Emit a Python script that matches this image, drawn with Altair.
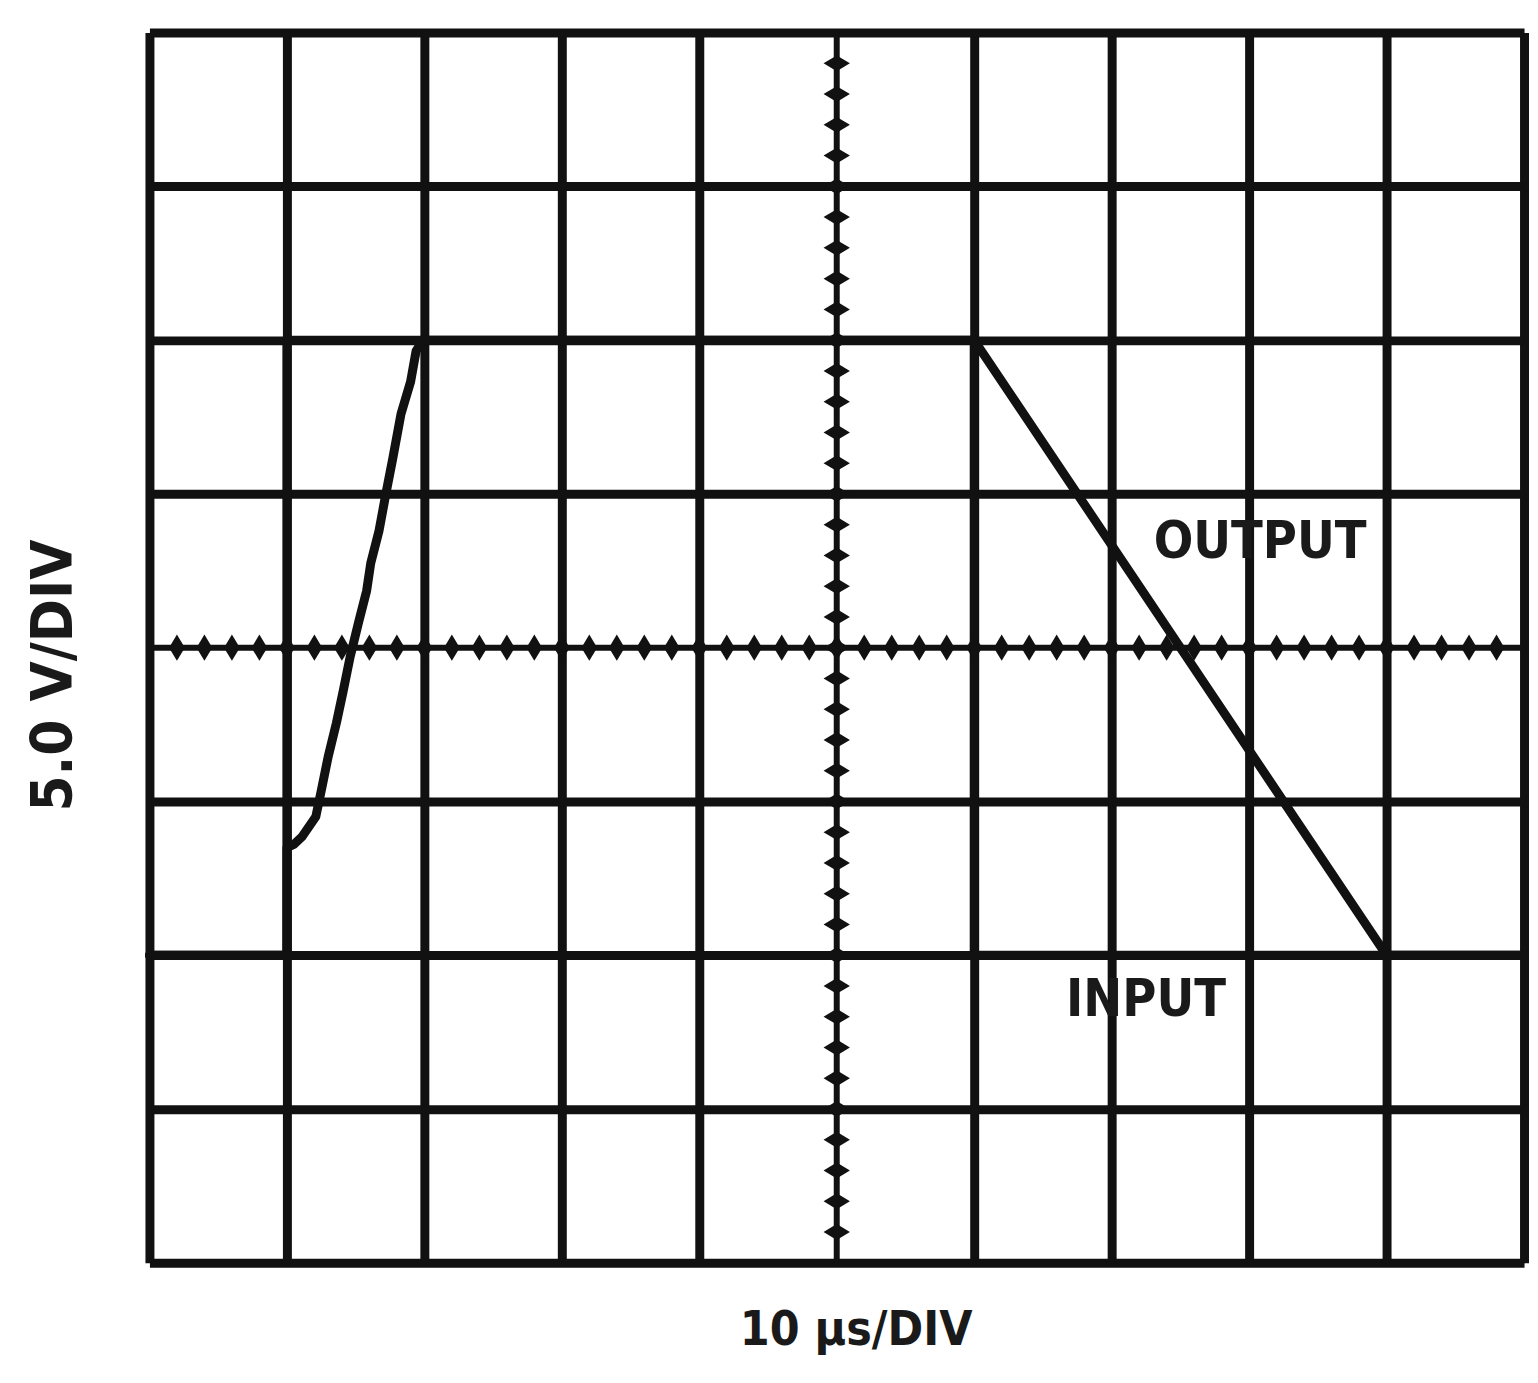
import altair as alt
import pandas as pd
import numpy as np

# Traces in divisions (x: 10 us/div, y: 5 V/div, centre = 0)
in_x = [0, 1.0, 1.0, 6.0, 6.0, 10]
in_y = [-2, -2, 2, 2, -2, -2]

out_x = [0, 1.0, 1.0, 1.05, 1.11, 1.21, 1.25, 1.30, 1.36, 1.41, 1.46, 1.52, 1.58, 1.61,
         1.67, 1.72, 1.77, 1.83, 1.90, 1.94, 1.99, 6.0, 9.0, 10]
out_y = [-2, -2, -1.30, -1.28, -1.23, -1.10, -0.93, -0.71, -0.49, -0.28, -0.06, 0.16, 0.37, 0.55,
         0.76, 1.00, 1.23, 1.52, 1.73, 1.93, 2.0, 2.0, -2, -2]

label_text = ["OUTPUT", "INPUT"]
label_x = [8.08, 7.25]
label_y = [0.69, -2.29]

x_grid = [0, 1, 2, 3, 4, 6, 7, 8, 9, 10]
y_grid = [-4, -3, -2, -1, 1, 2, 3, 4]

traces = pd.DataFrame({
    "x": in_x + out_x,
    "y": in_y + out_y,
    "trace": ["INPUT"] * len(in_x) + ["OUTPUT"] * len(out_x),
    "i": list(range(len(in_x))) + list(range(len(out_x))),
})
labels = pd.DataFrame({"text": label_text, "x": label_x, "y": label_y})

minor = np.round(np.arange(0.2, 10.0, 0.2), 2)
minor_y = np.round(np.arange(-3.8, 4.0, 0.2), 2)
hticks = pd.DataFrame({"x": minor, "y": 0.0})
vticks = pd.DataFrame({"x": 5.0, "y": minor_y})
centre = pd.DataFrame({"x": [0.0, 5.0], "x2": [10.0, 5.0], "y": [0.0, -4.0], "y2": [0.0, 4.0]})

FONT = "Liberation Sans Narrow, DejaVu Sans Condensed, Liberation Sans"

xs = alt.Scale(domain=[0, 10], nice=False, zero=False)
ys = alt.Scale(domain=[-4, 4], nice=False, zero=False)

x_axis = alt.Axis(values=x_grid, grid=True, gridColor="#111", gridWidth=9, gridOpacity=1,
                  domain=False, ticks=False, labels=False,
                  title="10 µs/DIV", titleFont=FONT, titleFontSize=48, titleFontWeight="bold",
                  titleColor="#1a1a1a", titleX=709, titleY=82, titleAlign="center",
                  titleBaseline="alphabetic")
y_axis = alt.Axis(values=y_grid, grid=True, gridColor="#111", gridWidth=9, gridOpacity=1,
                  domain=False, ticks=False, labels=False,
                  title="5.0 V/DIV", titleFont=FONT, titleFontSize=58,
                  titleFontWeight="bold", titleColor="#1a1a1a", titleAngle=270,
                  titleX=-95, titleY=645, titleAlign="center", titleBaseline="middle")

lines = alt.Chart(traces).mark_line(color="#111", strokeWidth=9, strokeJoin="round", strokeCap="round").encode(
    x=alt.X("x:Q", scale=xs, axis=x_axis),
    y=alt.Y("y:Q", scale=ys, axis=y_axis),
    detail="trace:N",
    order="i:Q",
)

centre_rules = alt.Chart(centre).mark_rule(color="#111", strokeWidth=6).encode(
    x=alt.X("x:Q", scale=xs), x2="x2:Q", y=alt.Y("y:Q", scale=ys), y2="y2:Q"
)

h_t = alt.Chart(hticks).mark_point(shape="M0,-1L0.6,0L0,1L-0.6,0Z", filled=True, opacity=1,
                                   color="#111", size=700, strokeWidth=0).encode(
    x=alt.X("x:Q", scale=xs), y=alt.Y("y:Q", scale=ys)
)
v_t = alt.Chart(vticks).mark_point(shape="M-1,0L0,-0.6L1,0L0,0.6Z", filled=True, opacity=1,
                                   color="#111", size=700, strokeWidth=0).encode(
    x=alt.X("x:Q", scale=xs), y=alt.Y("y:Q", scale=ys)
)

text = alt.Chart(labels).mark_text(font=FONT, fontSize=52, fontWeight="bold", color="#1a1a1a",
                                   align="center", baseline="middle").encode(
    x=alt.X("x:Q", scale=xs), y=alt.Y("y:Q", scale=ys), text="text:N"
)

chart = alt.layer(lines, centre_rules, h_t, v_t, text).properties(
    width=1380, height=1235,
    autosize=alt.AutoSizeParams(type="none"),
    padding={"left": 142, "top": 22, "right": 6, "bottom": 110},
).configure_view(stroke="#111", strokeWidth=9).configure(background="white")

chart.save("out.html", embed_options={"renderer": "svg", "actions": False})
